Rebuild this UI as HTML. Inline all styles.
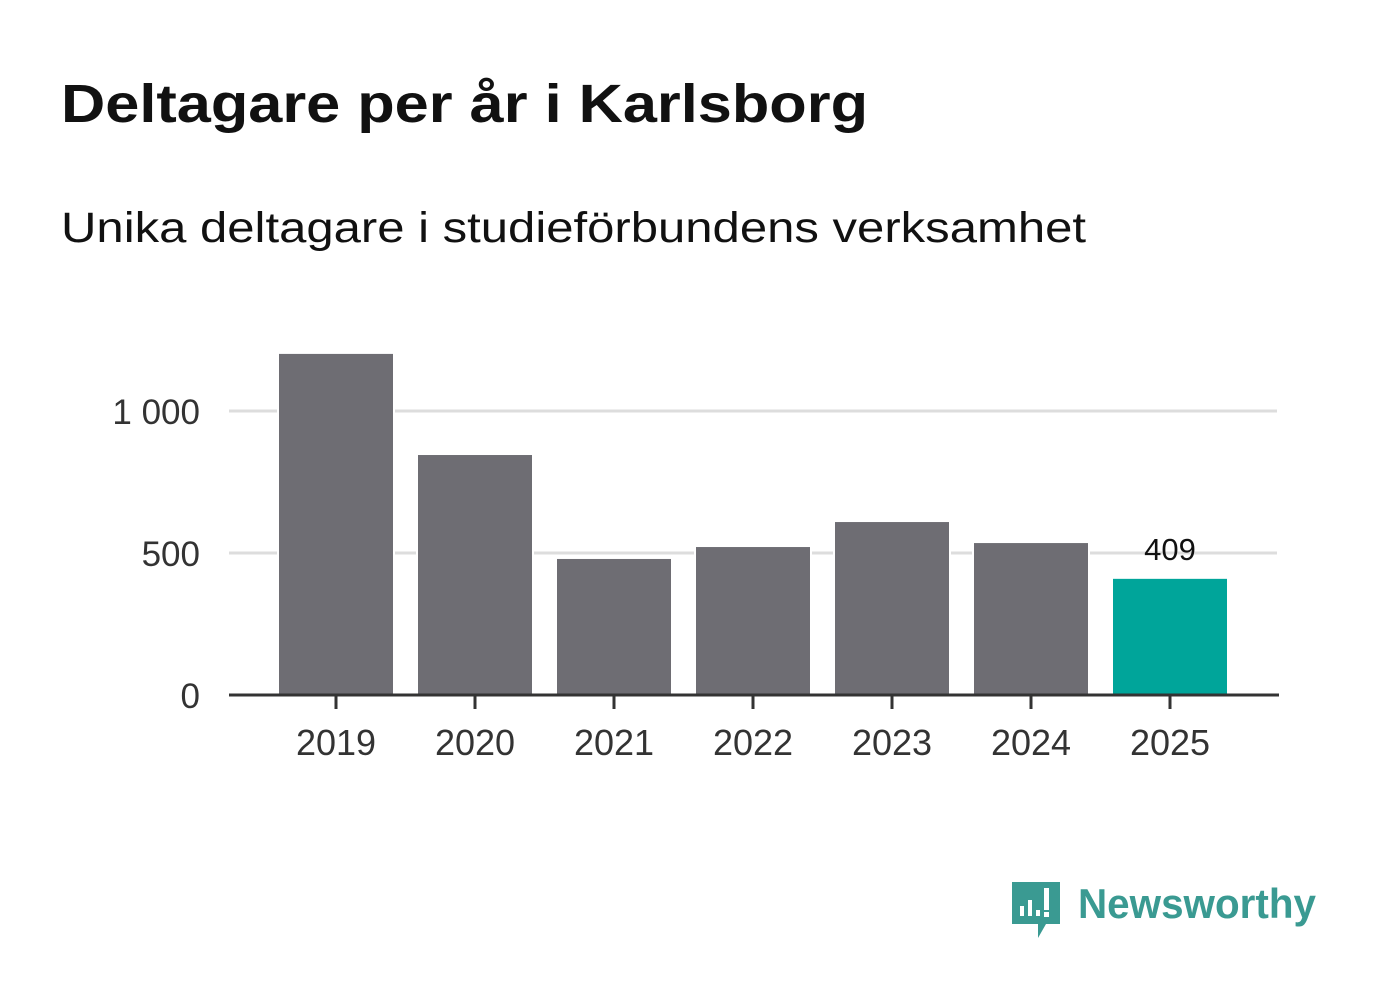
<!DOCTYPE html>
<html><head><meta charset="utf-8"><style>
body{margin:0;background:#fff;font-family:"Liberation Sans",sans-serif;}
</style></head><body>
<svg width="1382" height="999" xmlns="http://www.w3.org/2000/svg">
<text x="61" y="122" font-size="54" font-weight="bold" fill="#111" textLength="807" lengthAdjust="spacingAndGlyphs">Deltagare per år i Karlsborg</text>
<text x="61" y="242" font-size="43" fill="#111" textLength="1025" lengthAdjust="spacingAndGlyphs">Unika deltagare i studieförbundens verksamhet</text>
<g id="grid"></g>
<g id="bars"></g>
<g id="xax"></g>
<g>
<path d="M1012 882 h48 v42 h-14 l-8 14 v-14 h-26 z" fill="#3a9a92"/>
<rect x="1020" y="906" width="4" height="10" fill="#fff"/><rect x="1028" y="900" width="4" height="16" fill="#fff"/><rect x="1036" y="910" width="4" height="6" fill="#fff"/><rect x="1044" y="888" width="5" height="22" fill="#fff"/><rect x="1044" y="912" width="5" height="5" fill="#fff"/>
<text x="1078" y="918" font-size="42" font-weight="bold" fill="#3a9a92" textLength="238" lengthAdjust="spacingAndGlyphs">Newsworthy</text>
</g>
</svg>
<script>
const categories=["2019","2020","2021","2022","2023","2024","2025"];
const values=[1201,845,479,521,609,535,409];
const yTicks=[0,500,1000];
const yTickLabels=["0","500","1 000"];
const ns="http://www.w3.org/2000/svg";
const y0=695, pxPer=142/500;
const y=v=>y0-v*pxPer;
const x=i=>336+i*139;
function mk(t,a,p,txt){const e=document.createElementNS(ns,t);for(const k in a)e.setAttribute(k,a[k]);if(txt!==undefined)e.textContent=txt;document.getElementById(p).appendChild(e);return e;}
yTicks.forEach((v,i)=>{
 if(v>0){const l=mk('line',{x1:229,x2:1277,y1:y(v),y2:y(v),stroke:'#dddddd','stroke-width':3},'grid');
 
 }
 const t=mk('text',{x:200,y:y(v)+13,'font-size':35,fill:'#333','text-anchor':'end'},'grid',yTickLabels[i]);
 
 
});
values.forEach((v,i)=>{
 const last=i===values.length-1;
 const r=mk('rect',{x:x(i)-57,y:y(v),width:114,height:y0-y(v),fill:last?'#00a59a':'#6e6d73',stroke:'#fff','stroke-width':4,'paint-order':'stroke'},'bars');
 
 
 if(last){const t=mk('text',{x:x(i),y:y(v)-19,'font-size':31,fill:'#111','text-anchor':'middle'},'bars',String(v));
 
 }
 const tk=mk('line',{x1:x(i),x2:x(i),y1:y0,y2:y0+14,stroke:'#333','stroke-width':3},'xax');
 
 
 const tl=mk('text',{x:x(i),y:755,'font-size':36,fill:'#333','text-anchor':'middle'},'xax',categories[i]);
 
 
});
const ax=mk('line',{x1:229,x2:1279,y1:y0,y2:y0,stroke:'#333','stroke-width':3},'xax');


</script>
</body></html>
